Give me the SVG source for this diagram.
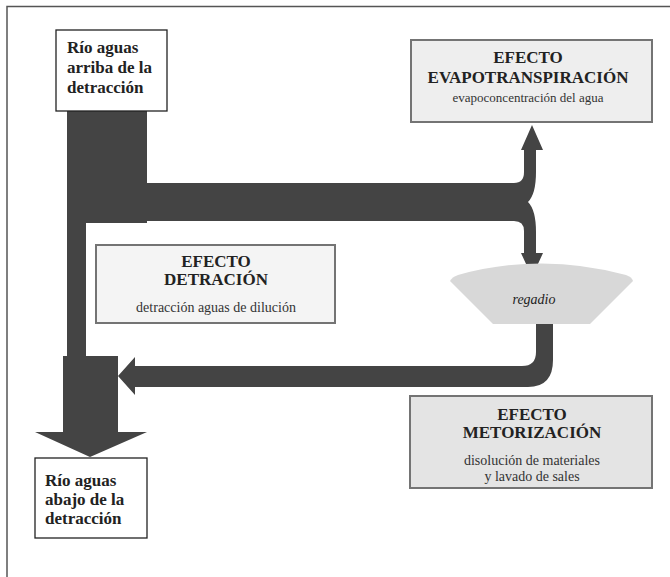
<svg xmlns="http://www.w3.org/2000/svg" width="670" height="577" viewBox="0 0 670 577">
  <style>
    .frame { fill: none; stroke: #555; stroke-width: 1.5; }
    .flow { fill: #444; stroke: none; }
    .river { fill: #fff; stroke: #222; stroke-width: 1.3; }
    .effect { fill: #f4f4f4; stroke: #747474; stroke-width: 2; }
    .effect2 { fill: #eeeeee; stroke: #747474; stroke-width: 2; }
    .effect3 { fill: #e4e4e4; stroke: #747474; stroke-width: 2; }
    .irrig { fill: #d8d8d8; stroke: none; }
    .rtext { font-family: "Liberation Serif", "Times New Roman", serif; font-weight: bold; font-size: 17px; fill: #222; }
    .title { font-family: "Liberation Serif", "Times New Roman", serif; font-weight: bold; font-size: 17px; fill: #222; text-anchor: middle; }
    .sub { font-family: "Liberation Serif", "Times New Roman", serif; font-size: 14px; fill: #333; text-anchor: middle; }
    .ital { font-family: "Liberation Serif", "Times New Roman", serif; font-style: italic; font-size: 14px; fill: #222; text-anchor: middle; }
  </style>

  <!-- page frame (top and left rules) -->
  <path class="frame" d="M7,577 L7,6.5 L670,6.5"/>

  <!-- flows -->
  <g id="connectors">
    <!-- river trunk, diversion channel forking to evapotranspiration and irrigation, downstream arrow -->
    <path class="flow" d="M67,111 L147,111 L147,183 L514,183 Q524,183 524,172 L524,150 L521,150 L532,125 L543,150 L536,150 L536,172 Q536,194 528,202 Q536,210 536,232 L536,253 L543,253 L532,277 L521,253 L524,253 L524,231 Q524,221 514,221 L147,221 L147,223 L86,223 L86,356 L118,356 L118,432 L147,432 L90,457 L35,432 L63,432 L63,356 L67,356 Z"/>
    <!-- return flow from irrigation back to the river -->
    <path class="flow" d="M536,322 L553,322 L553,360 Q553,387 528,387 L135,387 L135,395 L118,376 L135,357 L135,366 L522,366 Q536,366 536,352 Z"/>
  </g>

  <g id="rio-arriba">
    <rect class="river" x="56" y="30" width="111" height="81"/>
    <text class="rtext" x="67" y="53">Río aguas</text>
    <text class="rtext" x="67" y="73">arriba de la</text>
    <text class="rtext" x="67" y="93">detracción</text>
  </g>

  <g id="rio-abajo">
    <rect class="river" x="35" y="458" width="112" height="80"/>
    <text class="rtext" x="45" y="486">Río aguas</text>
    <text class="rtext" x="45" y="505">abajo de la</text>
    <text class="rtext" x="45" y="524">detracción</text>
  </g>

  <g id="efecto-evapotranspiracion">
    <rect class="effect2" x="411" y="40" width="241" height="82"/>
    <text class="title" x="528" y="63">EFECTO</text>
    <text class="title" x="528" y="83">EVAPOTRANSPIRACIÓN</text>
    <text class="sub" x="528" y="102" style="font-size:13px">evapoconcentración del agua</text>
  </g>

  <g id="efecto-detracion">
    <rect class="effect" x="96" y="245" width="239" height="78"/>
    <text class="title" x="216" y="267">EFECTO</text>
    <text class="title" x="216" y="285">DETRACIÓN</text>
    <text class="sub" x="216" y="312">detracción aguas de dilución</text>
  </g>

  <g id="regadio">
    <path class="irrig" d="M450,281 Q452,277 458,275 Q541,252 626,275 Q632,277 633,281 L590,324 L493,324 Z"/>
    <text class="ital" x="534" y="304">regadio</text>
  </g>

  <g id="efecto-metorizacion">
    <rect class="effect3" x="410" y="396" width="242" height="92"/>
    <text class="title" x="532" y="420">EFECTO</text>
    <text class="title" x="532" y="438">METORIZACIÓN</text>
    <text class="sub" x="532" y="465">disolución de materiales</text>
    <text class="sub" x="532" y="481">y lavado de sales</text>
  </g>
</svg>
